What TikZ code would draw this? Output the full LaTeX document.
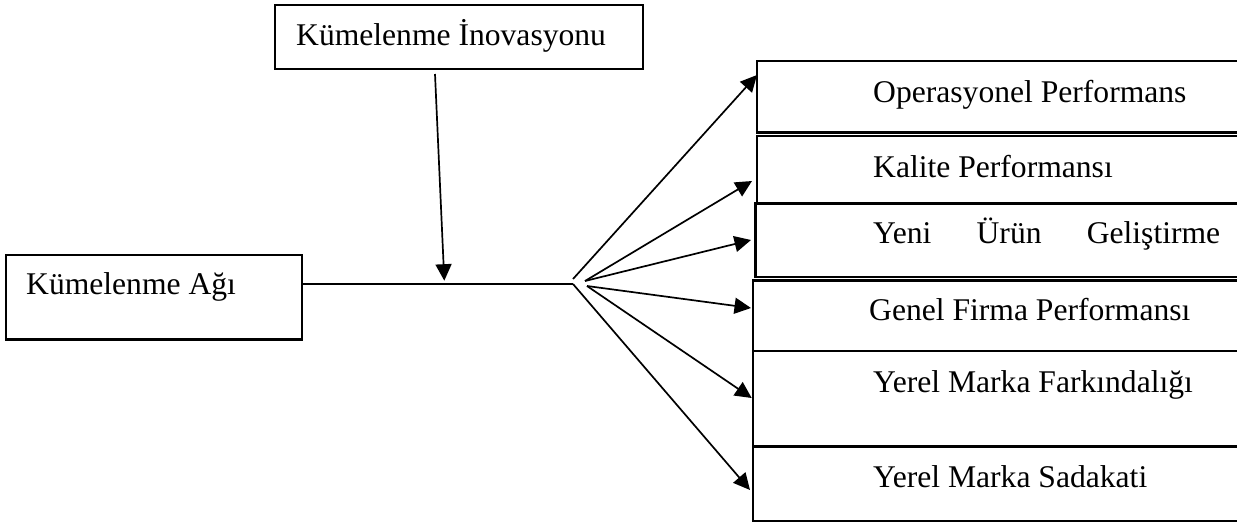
\documentclass[tikz,border=0pt]{standalone}
\usepackage{fontspec}
\setmainfont{Liberation Serif}
\usetikzlibrary{arrows.meta,calc}
\begin{document}
\begin{tikzpicture}[x=1pt,y=-1pt,
  box/.style={draw, line width=2.2pt, rectangle, inner sep=0pt, outer sep=0pt, anchor=north west},
  lbl/.style={inner sep=0pt, anchor=base west, font=\fontsize{31.6pt}{38pt}\selectfont},
  conn/.style={line width=1.7pt},
  arr/.style={line width=1.7pt, -{Triangle[length=16.5pt,width=16pt]}}]
\useasboundingbox (0,0) rectangle (1237,522);
% boxes
\node[box, minimum width=368pt, minimum height=64pt] (kin) at (275,5) {};
\node[box, minimum width=296pt, minimum height=84.5pt] (kag) at (6,255) {};
\node[box, minimum width=500pt, minimum height=71.5pt] (b1) at (757,61) {};
\node[box, minimum width=500pt, minimum height=67pt] (b2) at (757,136) {};
\node[box, minimum width=500pt, minimum height=73.5pt] (b3) at (755.5,203.5) {};
\node[box, minimum width=500pt, minimum height=70.5pt] (b4) at (753,280.5) {};
\node[box, minimum width=500pt, minimum height=95.5pt] (b5) at (753,351) {};
\node[box, minimum width=500pt, minimum height=75pt] (b6) at (753,446.5) {};
% texts
\node[lbl] (tkin) at (296,45) {Kümelenme İnovasyonu};
\node[lbl] (tkag) at (26,294) {Kümelenme Ağı};
\node[lbl] (t1) at (873,102) {Operasyonel Performans};
\node[lbl] (t2) at (873,177) {Kalite Performansı};
\node[lbl] (t3) at (873,243) {\makebox[347pt][s]{Yeni\hfill Ürün\hfill Geliştirme}};
\node[lbl] (t4) at (869,320) {Genel Firma Performansı};
\node[lbl] (t5) at (873,392) {Yerel Marka Farkındalığı};
\node[lbl] (t6) at (873,487) {Yerel Marka Sadakati};
% connectors
\coordinate (hub) at (573,284);
\draw[conn] (kag.east |- hub) -- (hub);
\draw[arr] ($(kin.south west)+(160,5)$) -- ($(kin.south west)+(169.3,211.7)$);
\draw[arr] ($(hub)+(0,-5)$) -- ($(b1.north west)+(0,14)$);
\draw[arr] ($(hub)+(12,-3)$) -- ($(b2.north west)+(-5,45)$);
\draw[arr] ($(hub)+(12,-3)$) -- ($(b3.north west)+(-4.5,36.5)$);
\draw[arr] ($(hub)+(14,2)$) -- ($(b4.north west)+(-2,27.5)$);
\draw[arr] ($(hub)+(14,2)$) -- ($(b5.north west)+(-1.3,47)$);
\draw[arr] (hub) -- ($(b6.north west)+(-3,43.5)$);
\end{tikzpicture}
\end{document}
